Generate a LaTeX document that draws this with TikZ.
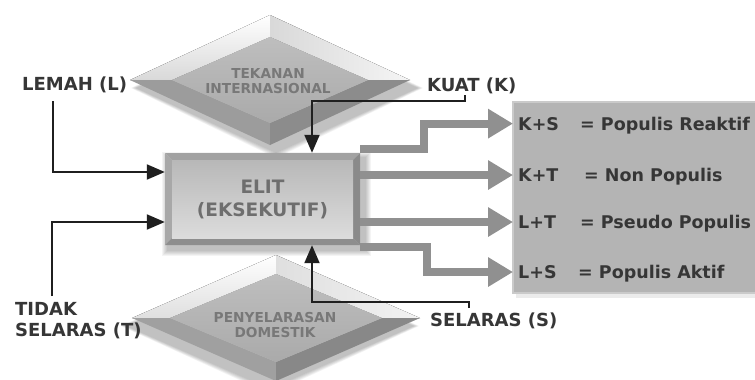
\documentclass[tikz,border=0pt]{standalone}
\usepackage{fontspec}
\setmainfont{DejaVu Sans}
\usetikzlibrary{arrows.meta,calc}
\definecolor{txt}{HTML}{363636}
\definecolor{dtxt}{HTML}{787878}
\definecolor{etxt}{HTML}{6E6E6E}
\definecolor{arrowgray}{HTML}{909090}
\definecolor{resfill}{HTML}{B4B4B4}
\definecolor{resline}{HTML}{CACACA}
\definecolor{facetA}{HTML}{9C9C9C}
\definecolor{facetB}{HTML}{8C8C8C}
\definecolor{facetC}{HTML}{A0A0A0}
\definecolor{facetD}{HTML}{888888}
\definecolor{boxtop}{HTML}{A2A2A2}
\definecolor{boxleft}{HTML}{A8A8A8}
\definecolor{boxbot}{HTML}{8E8E8E}
\definecolor{boxright}{HTML}{8A8A8A}
\definecolor{dfaceT}{HTML}{BEBEBE}
\definecolor{dfaceB}{HTML}{AAAAAA}
\definecolor{efaceT}{HTML}{B8B8B8}
\definecolor{efaceB}{HTML}{DCDCDC}
\begin{document}
\begin{tikzpicture}[x=1pt,y=-1pt,
  lbl/.style={font=\fontsize{18}{21}\selectfont\bfseries, text=txt, inner sep=0pt},
  rlbl/.style={font=\fontsize{17.5}{21}\selectfont\bfseries, text=txt, inner sep=0pt, anchor=base west},
  reslbl/.style={rlbl, inner xsep=5pt, inner ysep=0pt},
  dlbl/.style={font=\fontsize{13.7}{15}\selectfont\bfseries, text=dtxt, align=center, inner sep=0pt, anchor=base},
  blk/.style={draw=black!88, line width=2pt, -{Triangle[length=18pt,width=15pt]}},
  gar/.style={draw=arrowgray, line width=8pt, -{Triangle[length=25pt,width=28pt]}},
  shd/.style={fill=black, opacity=0.045},
]
\useasboundingbox (0,0) rectangle (755,380);
\fill[white] (0,0) rectangle (755,380);

% ---- beveled diamond: upper (Tekanan Internasional)
\foreach \i in {0,...,5}
  \fill[shd] (136-\i,88) -- (276,23-\i) -- (418+\i,88) -- (276,153+\i) -- cycle;
\fill[top color=white, bottom color=gray!30] (130,80) -- (270,15) -- (270,37) -- (172,80) -- cycle;
\fill[left color=gray!30, right color=gray!8] (270,15) -- (410,80) -- (368,80) -- (270,37) -- cycle;
\fill[facetA] (130,80) -- (172,80) -- (270,123) -- (270,145) -- cycle;
\fill[facetB] (410,80) -- (270,145) -- (270,123) -- (368,80) -- cycle;
\shade[top color=dfaceT, bottom color=dfaceB]
  (172,80) -- (270,37) -- (368,80) -- (270,123) -- cycle;

% ---- beveled diamond: lower (Penyelarasan Domestik)
\foreach \i in {0,...,5}
  \fill[shd] (126-\i,326) -- (270,263-\i) -- (414+\i,326) -- (270,389+\i) -- cycle;
\fill[top color=white, bottom color=gray!25] (132,318) -- (276,255) -- (276,274) -- (170,318) -- cycle;
\fill[left color=gray!25, right color=gray!10] (276,255) -- (420,318) -- (382,318) -- (276,274) -- cycle;
\fill[facetC] (132,318) -- (170,318) -- (276,362) -- (276,381) -- cycle;
\fill[facetD] (420,318) -- (276,381) -- (276,362) -- (382,318) -- cycle;
\shade[top color=dfaceT, bottom color=dfaceB]
  (170,318) -- (276,274) -- (382,318) -- (276,362) -- cycle;

% multi-line nodes: the base anchor sits on the last line
\node[dlbl] (tekanan) at (268,93) {TEKANAN\\INTERNASIONAL};
\node[dlbl] (penyel) at (275,337) {PENYELARASAN\\DOMESTIK};

% ---- result panel
\fill[black, opacity=0.08] (516,106) rectangle (760,298);
\draw[fill=resfill, draw=resline, line width=2pt] (513,102) rectangle (760,293);

% ---- beveled ELIT box
\foreach \i in {0,...,5}
  \fill[shd] (167-\i,157-\i) rectangle (366+\i,251+\i);
\fill[boxtop] (165,153) -- (360,153) -- (353,160) -- (172,160) -- cycle;
\fill[boxleft] (165,153) -- (172,160) -- (172,238) -- (165,245) -- cycle;
\fill[boxbot] (165,245) -- (172,238) -- (353,238) -- (360,245) -- cycle;
\fill[boxright] (360,153) -- (360,245) -- (353,238) -- (353,160) -- cycle;
\shade[top color=efaceT, bottom color=efaceB] (172,160) rectangle (353,238);
\node[minimum width=195pt, minimum height=92pt, inner sep=0pt, align=center,
      font=\fontsize{18.5}{23}\selectfont\bfseries, text=etxt] (elit) at (262.5,199) {ELIT\\(EKSEKUTIF)};

% ---- labels
\node[lbl, anchor=base west] (lemah) at (22,90.6) {LEMAH (L)};
\node[lbl, anchor=base west] (kuat) at (427,91.2) {KUAT (K)};
\node[lbl, anchor=base west, align=left] (tidak) at (15,336) {TIDAK\\SELARAS (T)};
\node[lbl, anchor=base west] (selaras) at (430,326) {SELARAS (S)};

\node[reslbl] (ks) at (513,130) {K+S};
\node[reslbl] (kt) at (513,181.4) {K+T};
\node[reslbl] (lt) at (513,228.4) {L+T};
\node[reslbl] (ls) at (513,278.4) {L+S};
\node[rlbl] (ksr) at (580,130) {= Populis Reaktif};
\node[rlbl] (ktr) at (584,181.4) {= Non Populis};
\node[rlbl] (ltr) at (580,228.4) {= Pseudo Populis};
\node[rlbl] (lsr) at (578,278.4) {= Populis Aktif};

% ---- free ends of the input connectors
\coordinate (lemahend) at (53,101);
\coordinate (tidakend) at (52,296);
\coordinate (kuatend) at (465,95);
\coordinate (selarasend) at (469,308);

% ---- input connectors
\draw[blk] (lemahend) |- ([yshift=27pt]elit.west);
\draw[blk] (tidakend) |- ([yshift=-23pt]elit.west);
\draw[blk] (kuatend) -- ++(0,6) -| ([xshift=49.5pt]elit.north);
\draw[blk] (selarasend) -- ++(0,-6) -| ([xshift=49.5pt]elit.south);

% ---- output connectors
\draw[gar] ([yshift=50pt]elit.east) -- ++(64,0) |- (ks.west);
\draw[gar] (elit.east |- kt.west) -- (kt.west);
\draw[gar] (elit.east |- lt.west) -- (lt.west);
\draw[gar] ([yshift=-48pt]elit.east) -- ++(67,0) |- (ls.west);
\end{tikzpicture}
\end{document}
